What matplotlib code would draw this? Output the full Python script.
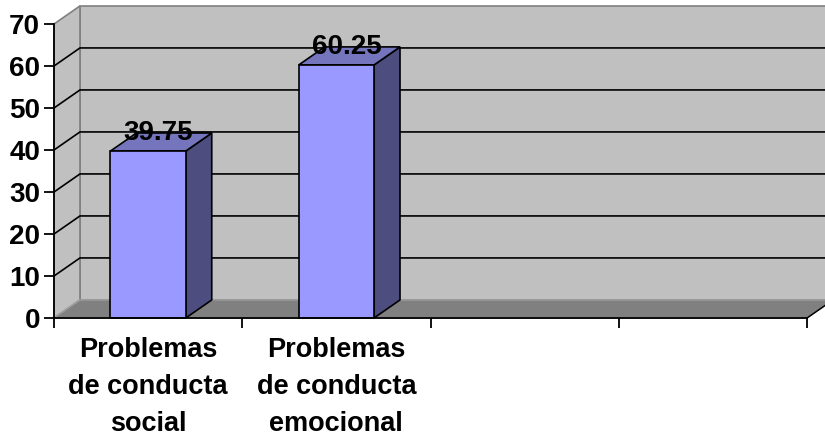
import matplotlib
matplotlib.use("Agg")

import matplotlib.pyplot as plt
from matplotlib.patches import Polygon

# ------------------------------------------------------------
# DATA
# ------------------------------------------------------------
categories = ["Problemas\nde conducta\nsocial", "Problemas\nde conducta\nemocional", "", ""]
values = [39.75, 60.25]
value_labels = ["39.75", "60.25"]
y_ticks = [0, 10, 20, 30, 40, 50, 60, 70]

plt.rcParams['font.family'] = ['Liberation Sans', 'DejaVu Sans']
plt.rcParams['font.weight'] = 'bold'

# ------------------------------------------------------------
# FIGURE / FRONT AXES
# ------------------------------------------------------------
fig = plt.figure(figsize=(8.25, 4.36), dpi=100)
ax = fig.add_axes([54 / 825, 118 / 436, 753 / 825, 294 / 436])
ax.patch.set_visible(False)

n = len(categories)
ymax = y_ticks[-1]
ax.set_xlim(-0.5, n - 0.5)
ax.set_ylim(0, ymax)

# depth of the fake 3d box (x in category units, y in value units)
dx, dy = 0.138, 4.3
bar_w = 0.4

wall = "#c0c0c0"
floor = "#808080"
edge_gray = "#808080"

x_left, x_right = -0.5, n - 0.5

# back wall
ax.add_patch(Polygon([(x_left + dx, dy), (x_right + dx, dy),
                      (x_right + dx, ymax + dy), (x_left + dx, ymax + dy)],
                     closed=True, facecolor=wall, edgecolor=edge_gray,
                     lw=1.2, clip_on=False, zorder=0.5))
# left side wall
ax.add_patch(Polygon([(x_left, 0), (x_left + dx, dy),
                      (x_left + dx, ymax + dy), (x_left, ymax)],
                     closed=True, facecolor=wall, edgecolor=edge_gray,
                     lw=1.2, clip_on=False, zorder=0.5))
# floor
ax.add_patch(Polygon([(x_left, 0), (x_right, 0),
                      (x_right + dx, dy), (x_left + dx, dy)],
                     closed=True, facecolor=floor, edgecolor="#a0a0a0",
                     lw=1.0, clip_on=False, zorder=0.6))
# right floor edge
ax.plot([x_right, x_right + dx], [0, dy], color="black", lw=1.1,
        clip_on=False, zorder=2.6)

# gridlines on side + back wall
for t in y_ticks[1:-1]:
    ax.plot([x_left, x_left + dx, x_right + dx], [t, t + dy, t + dy],
            color="black", lw=1.2, clip_on=False, zorder=0.8)

# ------------------------------------------------------------
# BARS
# ------------------------------------------------------------
for i, v in enumerate(values):
    x0, x1 = i - bar_w / 2, i + bar_w / 2
    front = [(x0, 0), (x1, 0), (x1, v), (x0, v)]
    side = [(x1, 0), (x1 + dx, dy), (x1 + dx, v + dy), (x1, v)]
    top = [(x0, v), (x1, v), (x1 + dx, v + dy), (x0 + dx, v + dy)]
    ax.add_patch(Polygon(side, closed=True, facecolor="#4d4d80",
                         edgecolor="black", lw=1.2, clip_on=False, zorder=2))
    ax.add_patch(Polygon(top, closed=True, facecolor="#7575bd",
                         edgecolor="black", lw=1.2, clip_on=False, zorder=2))
    ax.add_patch(Polygon(front, closed=True, facecolor="#9999ff",
                         edgecolor="black", lw=1.2, clip_on=False, zorder=2))
    ax.text(i + dx * 0.4, v + dy, value_labels[i], ha="center", va="center",
            fontsize=20, fontweight="bold", zorder=3)

# ------------------------------------------------------------
# AXES STYLE
# ------------------------------------------------------------
for s in ["top", "right"]:
    ax.spines[s].set_visible(False)
for s in ["left", "bottom"]:
    ax.spines[s].set_linewidth(1.3)
    ax.spines[s].set_zorder(2.5)

ax.set_yticks(y_ticks)
ax.set_yticklabels([str(t) for t in y_ticks])
ax.tick_params(axis="y", direction="out", length=7, width=1.3,
               pad=3, labelsize=20)

ax.set_xticks(range(n))
ax.set_xticklabels(categories, linespacing=1.55)
ax.set_xticks([k - 0.5 for k in range(n + 1)], minor=True)
ax.tick_params(axis="x", which="major", length=0, pad=14, labelsize=19.5)
ax.tick_params(axis="x", which="minor", direction="out", length=7, width=1.3)

fig.savefig("out.png", dpi=100)
